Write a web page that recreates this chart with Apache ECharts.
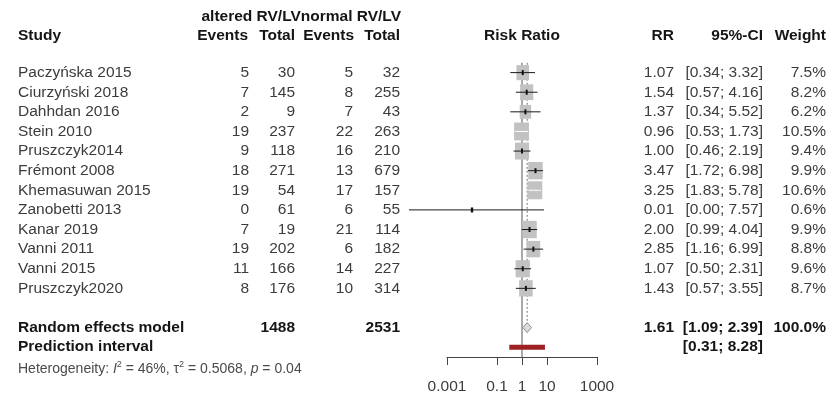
<!DOCTYPE html>
<html>
<head>
<meta charset="utf-8">
<title>Forest plot – RV/LV ratio and risk</title>
<script src="https://cdn.jsdelivr.net/npm/echarts@6/dist/echarts.min.js"></script>
<style>
  html, body { margin: 0; padding: 0; background: #fff; }
  #chart { width: 827px; height: 397px; }
</style>
</head>
<body>
<div id="chart"></div>
<script>
// ---- study data ----
const studies = ['Paczyńska 2015', 'Ciurzyński 2018', 'Dahhdan 2016', 'Stein 2010', 'Pruszczyk2014',
  'Frémont 2008', 'Khemasuwan 2015', 'Zanobetti 2013', 'Kanar 2019', 'Vanni 2011', 'Vanni 2015', 'Pruszczyk2020'];
const eventsAltered = [5, 7, 2, 19, 9, 18, 19, 0, 7, 19, 11, 8];
const totalAltered = [30, 145, 9, 237, 118, 271, 54, 61, 19, 202, 166, 176];
const eventsNormal = [5, 8, 7, 22, 16, 13, 17, 6, 21, 6, 14, 10];
const totalNormal = [32, 255, 43, 263, 210, 679, 157, 55, 114, 182, 227, 314];
const riskRatio = [1.07, 1.54, 1.37, 0.96, 1.00, 3.47, 3.25, 0.01, 2.00, 2.85, 1.07, 1.43];
const ciLower = [0.34, 0.57, 0.34, 0.53, 0.46, 1.72, 1.83, 0.00003, 0.99, 1.16, 0.50, 0.57];
const ciUpper = [3.32, 4.16, 5.52, 1.73, 2.19, 6.98, 5.78, 7.57, 4.04, 6.99, 2.31, 3.55];
const weights = [7.5, 8.2, 6.2, 10.5, 9.4, 9.9, 10.6, 0.6, 9.9, 8.8, 9.6, 8.7];

// ---- pooled results ----
const randomModel = [1.61, 1.09, 2.39];      // RR, lower, upper
const randomWeight = 100.0;
const pooledTotals = [1488, 2531];           // altered, normal
const predictionInterval = [0.31, 8.28];
const heterogeneity = ['46%', '0.5068', '0.04']; // I², tau², p

// ---- x axis ticks ----
const tickValues = [0.001, 0.1, 1, 10, 1000];
const tickLabels = ['0.001', '0.1', '1', '10', '1000'];

// ---- layout ----
const FONT = '"Liberation Sans", Arial, sans-serif';
const FS = 15.5;
const TEXT = '#3c3c3c';
const BOLD = '#151515';
const COL = { name: 18, ev1: 249, tot1: 295, ev2: 353, tot2: 400, rr: 674, ci: 763, w: 826 };
const ROW_RANDOM = 13, ROW_PRED = 14, ROW_HET = 15.1;

const lg = v => Math.log10(v);
const fmtCI = (lo, hi) => '[' + lo.toFixed(2) + '; ' + hi.toFixed(2) + ']';

function txt(x, y, s, align, bold, size, color) {
  return {
    type: 'text',
    style: {
      x: x, y: y, text: s, align: align, verticalAlign: 'middle',
      fontSize: size || FS, fontFamily: FONT, fontWeight: bold ? 'bold' : 'normal',
      fill: color || (bold ? BOLD : TEXT)
    }
  };
}

function renderStudy(params, api) {
  const i = params.dataIndex;
  const y = api.coord([0, i])[1];
  const xOf = v => api.coord([lg(v), i])[0];
  const xr = xOf(riskRatio[i]);
  const xl = xOf(ciLower[i]);
  const xh = xOf(ciUpper[i]);
  const w = 4.6 * Math.sqrt(weights[i]);
  const h = 1.2 * w;
  const inside = xl >= xr - w / 2 && xh <= xr + w / 2;
  const children = [
    txt(COL.name, y, studies[i], 'left'),
    txt(COL.ev1, y, String(eventsAltered[i]), 'right'),
    txt(COL.tot1, y, String(totalAltered[i]), 'right'),
    txt(COL.ev2, y, String(eventsNormal[i]), 'right'),
    txt(COL.tot2, y, String(totalNormal[i]), 'right'),
    txt(COL.rr, y, riskRatio[i].toFixed(2), 'right'),
    txt(COL.ci, y, fmtCI(ciLower[i], ciUpper[i]), 'right'),
    txt(COL.w, y, weights[i].toFixed(1) + '%', 'right'),
    { type: 'rect', shape: { x: xr - w / 2, y: y - h / 2, width: w, height: h },
      style: { fill: '#c2c2c2' } },
    { type: 'line', shape: { x1: xl, y1: y, x2: xh, y2: y },
      style: { stroke: inside ? '#ffffff' : '#1a1a1a', lineWidth: 1 } }
  ];
  if (!inside) {
    children.push({ type: 'rect', shape: { x: xr - 1, y: y - 2.5, width: 2, height: 5 },
      style: { fill: '#111' } });
  }
  return { type: 'group', children: children };
}

function renderPooled(params, api) {
  const yR = api.coord([0, ROW_RANDOM])[1];
  const yP = api.coord([0, ROW_PRED])[1];
  const yH = api.coord([0, ROW_HET])[1];
  const x = v => api.coord([lg(v), ROW_RANDOM])[0];
  const xTop = api.coord([0, -0.5]);
  const xBottom = api.coord([0, 14.5]);
  const xm = x(randomModel[0]);
  const children = [
    // line of no effect
    { type: 'line', shape: { x1: xTop[0], y1: xTop[1], x2: xBottom[0], y2: xBottom[1] },
      style: { stroke: '#555', lineWidth: 1 } },
    // pooled estimate
    { type: 'line', shape: { x1: xm, y1: xTop[1], x2: xm, y2: yR - 5 },
      style: { stroke: '#777', lineWidth: 1, lineDash: [2, 2] } },
    { type: 'polygon', shape: { points: [[x(randomModel[1]), yR], [xm, yR - 5], [x(randomModel[2]), yR], [xm, yR + 5]] },
      style: { fill: '#dcdcdc', stroke: '#8c8c8c', lineWidth: 1 } },
    { type: 'rect', shape: { x: x(predictionInterval[0]), y: yP - 2.5,
        width: x(predictionInterval[1]) - x(predictionInterval[0]), height: 5 },
      style: { fill: '#9c2024' } },
    txt(COL.name, yR, 'Random effects model', 'left', true),
    txt(COL.tot1, yR, String(pooledTotals[0]), 'right', true),
    txt(COL.tot2, yR, String(pooledTotals[1]), 'right', true),
    txt(COL.rr, yR, randomModel[0].toFixed(2), 'right', true),
    txt(COL.ci, yR, fmtCI(randomModel[1], randomModel[2]), 'right', true),
    txt(COL.w, yR, randomWeight.toFixed(1) + '%', 'right', true),
    txt(COL.name, yP, 'Prediction interval', 'left', true),
    txt(COL.ci, yP, fmtCI(predictionInterval[0], predictionInterval[1]), 'right', true),
    {
      type: 'text',
      style: {
        x: COL.name, y: yH, align: 'left', verticalAlign: 'middle',
        text: '{n|Heterogeneity: }{i|I}{s|2}{n| = ' + heterogeneity[0] + ', τ}{s|2}{n| = ' +
          heterogeneity[1] + ', }{i|p}{n| = ' + heterogeneity[2] + '}',
        rich: {
          n: { fontSize: 14, fontFamily: FONT, fill: '#4a4a4a', lineHeight: 18 },
          i: { fontSize: 14, fontFamily: FONT, fontStyle: 'italic', fill: '#4a4a4a', lineHeight: 18 },
          s: { fontSize: 9, fontFamily: FONT, fill: '#4a4a4a', verticalAlign: 'top', lineHeight: 11 }
        }
      }
    }
  ];
  return { type: 'group', children: children };
}

const tickLogs = tickValues.map(lg);

const option = {
  animation: false,
  backgroundColor: '#fff',
  grid: { left: 447, top: 53, width: 150, height: 304, outerBoundsMode: 'none' },
  xAxis: {
    type: 'value', min: -3, max: 3, position: 'bottom',
    axisLine: { show: true, onZero: false, lineStyle: { color: '#444', width: 1 } },
    axisTick: { show: true, inside: false, length: 8, customValues: tickLogs,
      lineStyle: { color: '#444', width: 1 } },
    axisLabel: {
      show: true, customValues: tickLogs, margin: 22,
      fontSize: FS, fontFamily: FONT, color: TEXT,
      formatter: v => {
        const k = tickLogs.findIndex(t => Math.abs(t - v) < 1e-9);
        return k >= 0 ? tickLabels[k] : '';
      }
    },
    splitLine: { show: false }
  },
  yAxis: { type: 'value', inverse: true, min: -1, max: 14.5, show: false },
  graphic: [
    txt(401, 17, 'altered RV/LVnormal RV/LV', 'right', true),
    txt(COL.name, 36, 'Study', 'left', true),
    txt(248, 36, 'Events', 'right', true),
    txt(295, 36, 'Total', 'right', true),
    txt(354, 36, 'Events', 'right', true),
    txt(400, 36, 'Total', 'right', true),
    txt(522, 36, 'Risk Ratio', 'center', true),
    txt(COL.rr, 36, 'RR', 'right', true),
    txt(COL.ci, 36, '95%-CI', 'right', true),
    txt(COL.w, 36, 'Weight', 'right', true)
  ],
  series: [
    {
      type: 'custom', name: 'pooled', clip: false, silent: true,
      data: [[lg(randomModel[0]), ROW_RANDOM]],
      renderItem: renderPooled
    },
    {
      type: 'custom', name: 'studies', clip: false, silent: true,
      data: riskRatio.map((v, i) => [lg(v), i]),
      encode: { x: 0, y: 1 },
      renderItem: renderStudy
    }
  ]
};

const chart = echarts.init(document.getElementById('chart'));
chart.setOption(option);
</script>
</body>
</html>
